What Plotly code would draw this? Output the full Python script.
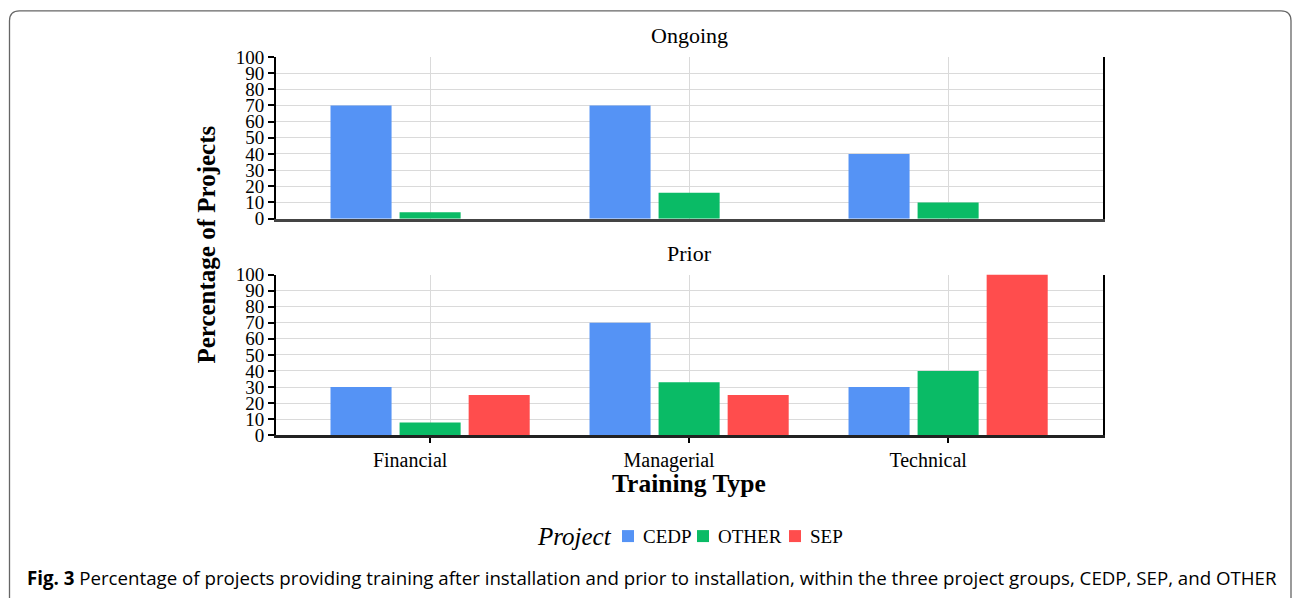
import plotly.graph_objects as go

# data
categories = ["Financial", "Managerial", "Technical"]
projects = ["CEDP", "OTHER", "SEP"]
ongoing = {"CEDP": [70, 70, 40], "OTHER": [4, 16, 10], "SEP": [0, 0, 0]}
prior = {"CEDP": [30, 70, 30], "OTHER": [8, 33, 40], "SEP": [25, 25, 100]}
y_ticks = list(range(0, 101, 10))

colors = {"CEDP": "#5593F5", "OTHER": "#0ABB66", "SEP": "#FF4D4D"}
W, H = 1293, 598
# the page ends up drawn 10px down and squeezed to 578px tall in the shot
SHOT_TOP, SHOT_SCALE = 10, 578 / 598
SERIF = "Liberation Serif, Times New Roman, serif"


def px_x(p):
    return p / W


def px_y(p):
    return 1 - (p - SHOT_TOP) / SHOT_SCALE / H


fig = go.Figure()

for name in projects:
    fig.add_trace(go.Bar(x=categories, y=ongoing[name], name=name,
                         marker_color=colors[name], marker_line_width=0,
                         xaxis="x", yaxis="y", showlegend=False))
    fig.add_trace(go.Bar(x=categories, y=prior[name], name=name,
                         marker_color=colors[name], marker_line_width=0,
                         xaxis="x2", yaxis="y2", showlegend=False))

xdom = [px_x(276), px_x(1103)]
xrange_ = [-0.595, 2.598]
grid = dict(showgrid=True, gridcolor="#DADADA", gridwidth=1.3)
yaxis_common = dict(range=[0, 100], tickvals=y_ticks, ticks="outside", ticklen=6,
                    tickwidth=2, tickcolor="black", showline=True, linecolor="black",
                    linewidth=2, mirror=True, zeroline=False, **grid)

fig.update_layout(
    width=W, height=H,
    margin=dict(l=0, r=0, t=0, b=0),
    paper_bgcolor="white", plot_bgcolor="white",
    barmode="group", bargap=0.2, bargroupgap=0.116,
    font=dict(family=SERIF, size=19, color="black"),
    showlegend=False,
    xaxis=dict(domain=xdom, anchor="y", range=xrange_, showticklabels=False,
               ticks="", showline=True, linecolor="#444", linewidth=2.5, **grid),
    yaxis=dict(domain=[px_y(219), px_y(57)], anchor="x", **yaxis_common),
    xaxis2=dict(domain=xdom, anchor="y2", range=xrange_, ticks="outside", ticklen=5,
                tickwidth=2, tickcolor="black", showline=True, linecolor="#222",
                linewidth=2.5, tickfont=dict(size=20), ticklabelshift=-20, **grid),
    yaxis2=dict(domain=[px_y(436), px_y(275)], anchor="x2", **yaxis_common),
)

annotations = [
    dict(text="Ongoing", x=px_x(690), y=px_y(36), font=dict(size=22)),
    dict(text="Prior", x=px_x(690), y=px_y(254), font=dict(size=22)),
    dict(text="<b>Training Type</b>", x=px_x(689), y=px_y(484), font=dict(size=25.5)),
    dict(text="<b>Percentage of Projects</b>", x=px_x(207), y=px_y(245),
         textangle=-90, font=dict(size=25)),
    dict(text="<b>Fig. 3</b> Percentage of projects providing training after installation "
              "and prior to installation, within the three project groups, CEDP, SEP, and OTHER",
         x=px_x(25), y=px_y(578), xanchor="left",
         font=dict(family="Open Sans, sans-serif", size=18.7)),
    # legend
    dict(text="<i>Project</i>", x=px_x(574), y=px_y(537), font=dict(size=25)),
]

# hand-built legend row: swatch + label
legend_swatch_x = {"CEDP": 622, "OTHER": 697, "SEP": 789}
sw = 12
for name in projects:
    x0 = legend_swatch_x[name]
    fig.add_shape(type="rect", xref="paper", yref="paper",
                  x0=px_x(x0), x1=px_x(x0 + sw), y0=px_y(537 + sw / 2), y1=px_y(537 - sw / 2),
                  fillcolor=colors[name], line_width=0)
    annotations.append(dict(text=name, x=px_x(x0 + sw + 7), y=px_y(537),
                            xanchor="left", font=dict(size=19)))

for a in annotations:
    a.update(xref="paper", yref="paper", showarrow=False)
    a.setdefault("xanchor", "center")
    a.setdefault("yanchor", "middle")
fig.update_layout(annotations=annotations)

# rounded frame around the figure panel
l, t, r, b = 9.5, 10.8, 1291, 640
rad = 10
path = (f"M {px_x(l)},{px_y(b)} L {px_x(l)},{px_y(t + rad)} "
        f"Q {px_x(l)},{px_y(t)} {px_x(l + rad)},{px_y(t)} "
        f"L {px_x(r - rad)},{px_y(t)} Q {px_x(r)},{px_y(t)} {px_x(r)},{px_y(t + rad)} "
        f"L {px_x(r)},{px_y(b)}")
fig.add_shape(type="path", path=path, xref="paper", yref="paper",
              line=dict(color="#666", width=1.3))

# pin the plot div to the top-left corner of the page
pin = ("document.documentElement.style.overflow='hidden';"
       "document.body.style.margin='0';document.body.style.overflow='hidden';"
       "var d=document.getElementById('{plot_id}');"
       "d.style.position='fixed';d.style.top='0px';d.style.left='0px';")
fig.write_html("out.html", config={"displayModeBar": False}, post_script=pin)
